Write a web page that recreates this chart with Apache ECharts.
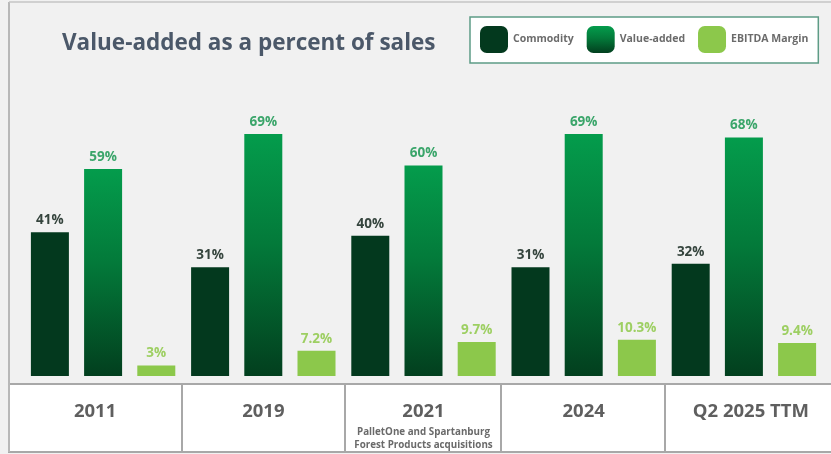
<!DOCTYPE html>
<html>
<head>
<meta charset="utf-8">
<script src="https://cdn.jsdelivr.net/npm/echarts@6/dist/echarts.min.js"></script>
<style>
html,body{margin:0;padding:0;background:#f1f1f1;}
#c{width:831px;height:454px;}
</style>
</head>
<body>
<div id="c"></div>
<script>
var categories = ['2011', '2019', '2021', '2024', 'Q2 2025 TTM'];
var categoryNotes = ['', '', 'PalletOne and Spartanburg\nForest Products acquisitions', '', ''];
var commodity = [41, 31, 40, 31, 32];
var valueAdded = [59, 69, 60, 69, 68];
var ebitdaMargin = [3, 7.2, 9.7, 10.3, 9.4];
var seriesNames = ['Commodity', 'Value-added', 'EBITDA Margin'];

var FONT = '"Open Sans", "Noto Sans", sans-serif';
var chart = echarts.init(document.getElementById('c'), null, {renderer: 'canvas'});

function axisLabelText(v) {
  var idx = categories.indexOf(v);
  var style = idx === 0 ? 'yl' : (idx === categories.length - 1 ? 'yr' : 'y');
  var s = '{' + style + '|' + v + '}';
  if (categoryNotes[idx]) {
    s += '\n' + categoryNotes[idx].split('\n').map(function (t) { return '{s|' + t + '}'; }).join('\n');
  }
  return s;
}

function pct(p) { return p.value + '%'; }

var yearStyle = {fontFamily: FONT, fontSize: 18.5, fontWeight: 'bold', color: '#5f5f5f', lineHeight: 29};
var option = {
  backgroundColor: '#f1f1f1',
  animation: false,
  title: {
    text: 'Value-added as a percent of sales',
    left: 57, top: 27,
    textStyle: {fontFamily: FONT, fontSize: 22.5, fontWeight: 'bold', color: '#4b5869'}
  },
  legend: {
    left: 470, top: 17,
    padding: [9, 10, 10, 10],
    itemWidth: 28, itemHeight: 27, itemGap: 13,
    backgroundColor: '#ffffff',
    borderColor: '#5e9c86', borderWidth: 1.5,
    textStyle: {fontFamily: FONT, fontSize: 10.5, fontWeight: 'bold', color: '#6b6b6b'},
    data: seriesNames
  },
  grid: {left: 23, right: 7, top: 95.4, bottom: 78},
  xAxis: {
    type: 'category',
    data: categories,
    axisLine: {show: false},
    axisTick: {show: false},
    axisLabel: {
      margin: 21,
      interval: 0,
      formatter: axisLabelText,
      rich: {
        y: yearStyle,
        yl: Object.assign({}, yearStyle, {padding: [0, 16, 0, 0]}),
        yr: Object.assign({}, yearStyle, {padding: [0, 0, 0, 14]}),
        s: {fontFamily: FONT, fontSize: 9.8, fontWeight: 'bold', color: '#6a6a6a', lineHeight: 13}
      }
    }
  },
  yAxis: {type: 'value', min: 0, max: 80, show: false, splitLine: {show: false}},
  series: [
    {
      name: seriesNames[0], type: 'bar', data: commodity,
      barWidth: 38, barGap: '40%',
      itemStyle: {color: '#03391e'},
      label: {show: true, position: 'top', distance: 5, formatter: pct,
        fontFamily: FONT, fontSize: 13.5, fontWeight: 'bold', color: '#35443d'}
    },
    {
      name: seriesNames[1], type: 'bar', data: valueAdded,
      barWidth: 38, barGap: '40%',
      itemStyle: {color: new echarts.graphic.LinearGradient(0, 0, 0, 1, [
        {offset: 0, color: '#049c4c'},
        {offset: 0.45, color: '#037a3a'},
        {offset: 1, color: '#023f1e'}
      ])},
      label: {show: true, position: 'top', distance: 5, formatter: pct,
        fontFamily: FONT, fontSize: 13.5, fontWeight: 'bold', color: '#3aa56a'}
    },
    {
      name: seriesNames[2], type: 'bar', data: ebitdaMargin,
      barWidth: 38, barGap: '40%',
      itemStyle: {color: '#8cc84b'},
      label: {show: true, position: 'top', distance: 5, formatter: pct,
        fontFamily: FONT, fontSize: 13.5, fontWeight: 'bold', color: '#9dcf62'}
    }
  ],
  graphic: [
    {type: 'rect', z: -1, shape: {x: 9, y: 384, width: 830, height: 68},
      style: {fill: '#ffffff', stroke: '#a8a8a8', lineWidth: 2}},
    {type: 'line', shape: {x1: 182, y1: 384, x2: 182, y2: 452}, style: {stroke: '#a8a8a8', lineWidth: 2}},
    {type: 'line', shape: {x1: 345, y1: 384, x2: 345, y2: 452}, style: {stroke: '#a8a8a8', lineWidth: 2}},
    {type: 'line', shape: {x1: 501, y1: 384, x2: 501, y2: 452}, style: {stroke: '#a8a8a8', lineWidth: 2}},
    {type: 'line', shape: {x1: 665, y1: 384, x2: 665, y2: 452}, style: {stroke: '#a8a8a8', lineWidth: 2}},
    {type: 'line', shape: {x1: 9, y1: 2, x2: 9, y2: 452}, style: {stroke: '#b8b8b8', lineWidth: 2}},
    {type: 'line', shape: {x1: 9, y1: 2, x2: 831, y2: 2}, style: {stroke: '#c4c4c4', lineWidth: 1.5}}
  ]
};
chart.setOption(option);
</script>
</body>
</html>
